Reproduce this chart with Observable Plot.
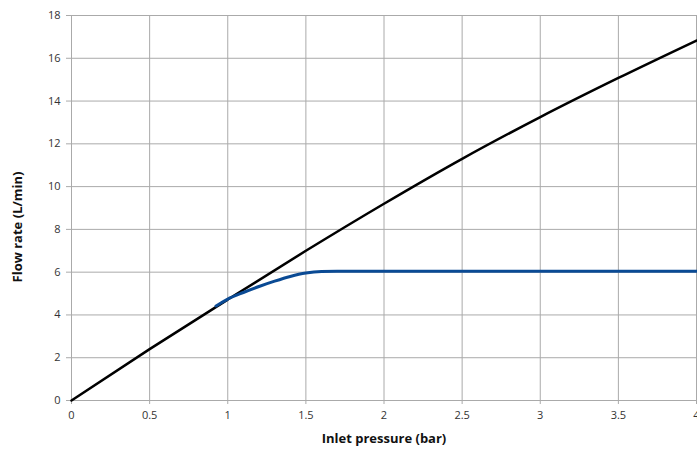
<!DOCTYPE html>
<html><head><meta charset="utf-8">
<script src="https://cdn.jsdelivr.net/npm/d3@7"></script>
<script src="https://cdn.jsdelivr.net/npm/@observablehq/plot@0.6"></script>
<style>body{margin:0;background:#fff;font-family:"Open Sans",sans-serif}</style>
</head><body><div id="chart"></div>
<script>
const xTicks = [0, 0.5, 1, 1.5, 2, 2.5, 3, 3.5, 4];
const xTickLabels = ["0", "0.5", "1", "1.5", "2", "2.5", "3", "3.5", "4"];
const yTicks = [0, 2, 4, 6, 8, 10, 12, 14, 16, 18];
const totalX = [0, 0.5, 1, 1.5, 2, 2.5, 3, 3.5, 4];
const totalY = [0, 2.4, 4.72, 7.0, 9.2, 11.3, 13.25, 15.08, 16.83];
const limX = [0.925, 1.0, 1.1, 1.2, 1.3, 1.4, 1.5, 1.6, 1.7, 4];
const limY = [4.42, 4.74, 5.05, 5.33, 5.58, 5.8, 5.96, 6.03, 6.04, 6.04];

const total = totalX.map((x, i) => ({x, y: totalY[i]}));
const lim = limX.map((x, i) => ({x, y: limY[i]}));

const chart = Plot.plot({
  width: 697, height: 450,
  marginLeft: 71, marginRight: 1, marginTop: 15, marginBottom: 50,
  style: {fontFamily: "Open Sans, sans-serif", fontSize: "11px", color: "#333"},
  x: {domain: [0, 4], ticks: xTicks, tickFormat: (d, i) => xTickLabels[i], label: null},
  y: {domain: [0, 18], ticks: yTicks, label: null},
  marks: [
    Plot.gridX(xTicks, {stroke: "#aaa", strokeOpacity: 1, strokeWidth: 1}),
    Plot.gridY(yTicks, {stroke: "#aaa", strokeOpacity: 1, strokeWidth: 1}),
    Plot.axisX(xTicks, {tickSize: 4, tickPadding: 7, stroke: "#aaa", fill: "#333", fontSize: 11, tickFormat: (d, i) => xTickLabels[i]}),
    Plot.axisY(yTicks, {tickSize: 5, tickPadding: 6, stroke: "#aaa", fill: "#333", fontSize: 11}),
    Plot.ruleX([0], {stroke: "#aaa"}),
    Plot.ruleY([0], {stroke: "#aaa"}),
    Plot.line(total, {x: "x", y: "y", stroke: "#000", strokeWidth: 2.5, curve: "monotone-x"}),
    Plot.line(lim, {x: "x", y: "y", stroke: "#0a4a94", strokeWidth: 3, curve: "monotone-x"}),
    Plot.text(["Inlet pressure (bar)"], {frameAnchor: "bottom", dy: 42, fontWeight: "bold", fontSize: 13, fill: "#111"}),
    Plot.text(["Flow rate (L/min)"], {frameAnchor: "left", textAnchor: "middle", dx: -54, dy: 19, rotate: -90, fontWeight: "bold", fontSize: 13, fill: "#111"})
  ]
});
document.getElementById("chart").appendChild(chart);
</script>
</body></html>
